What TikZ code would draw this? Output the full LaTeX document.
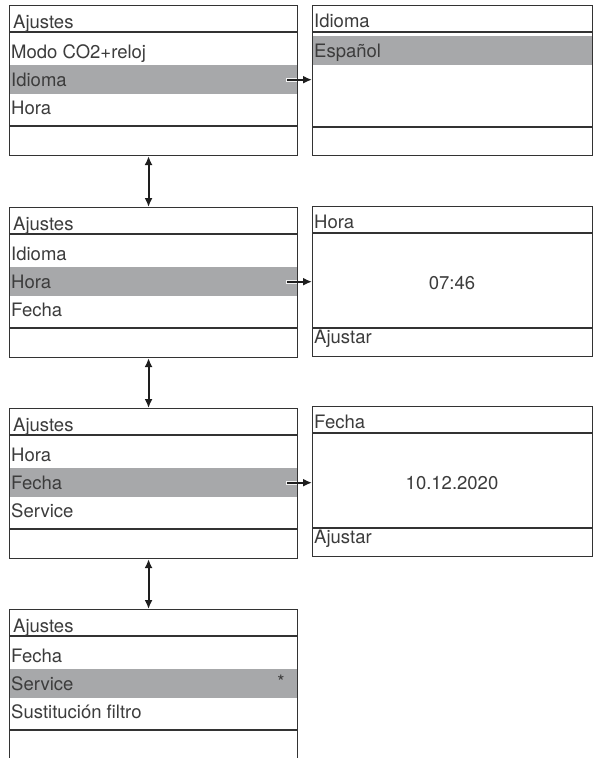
\documentclass[tikz,border=0pt]{standalone}
\usepackage{fontspec}
\setmainfont{TeX Gyre Heros}
\usetikzlibrary{arrows.meta}
\definecolor{lc}{HTML}{333333}
\definecolor{tc}{HTML}{3C3C3C}
\definecolor{hlgray}{HTML}{A7A8AA}
\definecolor{ac}{HTML}{1E1E1E}
\tikzset{
  frame/.style={draw=lc, line width=1.1pt, inner sep=0pt, anchor=north west},
  sepline/.style={draw=lc, line width=1.4pt},
  hlbar/.style={fill=hlgray, draw=none, inner sep=0pt, anchor=north west},
  txt/.style={font=\fontsize{18.5}{19}\selectfont, text=tc, inner sep=0pt, anchor=base west},
  ctxt/.style={font=\fontsize{18.5}{19}\selectfont, text=tc, inner sep=0pt, anchor=center},
  nav/.style={draw=ac, line width=2pt, -{Latex[length=9pt,width=8pt]}},
  navv/.style={draw=ac, line width=2pt, {Latex[length=9pt,width=8pt]}-{Latex[length=9pt,width=8pt]}},
  halo/.style={draw=white!85!hlgray, line width=4pt},
}
% left menu screen: #1 top, #2 name, #3 #4 #5 rows
\newcommand\lscreen[5]{%
  \node[hlbar, minimum width=288pt, minimum height=29pt] (#2hl) at (9,{#1+60}) {};
  \node[frame, minimum width=288pt, minimum height=150pt] (#2) at (9,#1) {};
  \draw[sepline] (9,{#1+27}) -- (297,{#1+27});
  \draw[sepline] (9,{#1+121}) -- (297,{#1+121});
  \node[txt] (#2t0) at (13,{#1+23}) {Ajustes};
  \node[txt] (#2t1) at (11,{#1+53}) {#3};
  \node[txt] (#2t2) at (11,{#1+81}) {#4};
  \node[txt] (#2t3) at (11,{#1+109}) {#5};
}
% right detail screen: #1 top, #2 name, #3 title
\newcommand\rscreen[3]{%
  \node[frame, minimum width=280pt, minimum height=150pt] (#2) at (312,#1) {};
  \draw[sepline] (312,{#1+27}) -- (592,{#1+27});
  \draw[sepline] (312,{#1+122}) -- (592,{#1+122});
  \node[txt] (#2t0) at (314,{#1+22}) {#3};
}
\begin{document}
\begin{tikzpicture}[x=1pt,y=-1pt]
\useasboundingbox (0,0) rectangle (595,758);
\fill[white] (0,0) rectangle (595,758);
\begin{scope}
\clip (0,0) rectangle (595,758);
% column of menu screens
\lscreen{5}{sa}{Modo CO2+reloj}{Idioma}{Hora}
\lscreen{207}{sb}{Idioma}{Hora}{Fecha}
\lscreen{408}{sc}{Hora}{Fecha}{Service}
\lscreen{609}{sd}{Fecha}{Service}{Sustitución filtro}
\node[ctxt] (sdstar) at (281,{609+73}) {*};
% detail screens
\node[hlbar, minimum width=280pt, minimum height=29pt] (rahl) at (312,36) {};
\rscreen{5}{ra}{Idioma}
\node[txt] (rat1) at (314,57) {Español};
\rscreen{206}{rb}{Hora}
\node[ctxt] (rbv) at (452,283) {07:46};
\node[txt] (rbf) at (314,343) {Ajustar};
\rscreen{406}{rc}{Fecha}
\node[ctxt] (rcv) at (452,483) {10.12.2020};
\node[txt] (rcf) at (314,543) {Ajustar};
\end{scope}
% horizontal navigation arrows
\foreach \s/\r in {sa/ra,sb/rb,sc/rc}{
  \draw[halo] ([xshift=-11pt]\s hl.east) -- ([xshift=-0.6pt]\s hl.east);
  \draw[nav] ([xshift=-10pt]\s hl.east) -- (\s hl.east -| \r.west);
}
% vertical navigation arrows
\draw[navv] ([xshift=-5pt]sa.south) -- ([xshift=-5pt]sb.north);
\draw[navv] ([xshift=-5pt]sb.south) -- ([xshift=-5pt]sc.north);
\draw[navv] ([xshift=-5pt]sc.south) -- ([xshift=-5pt]sd.north);
\end{tikzpicture}
\end{document}
